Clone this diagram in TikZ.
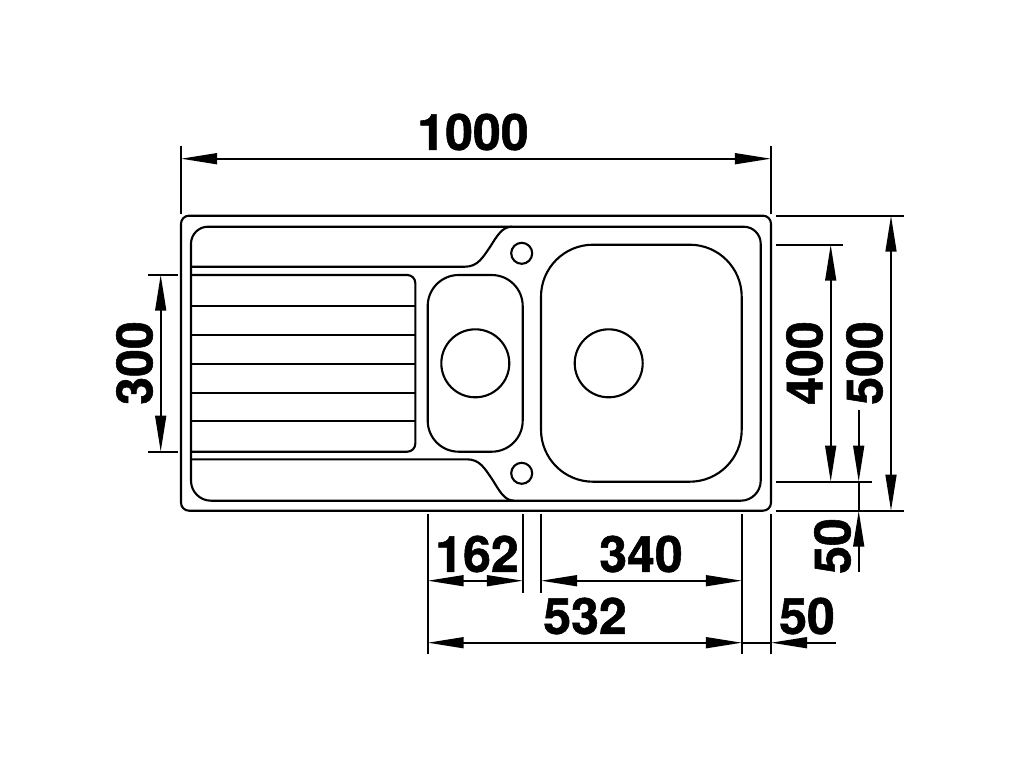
\documentclass[tikz,border=0pt]{standalone}
\usepackage{fontspec}
\setmainfont{TeX Gyre Heros}[BoldFeatures={FakeBold=1.1}]
\usetikzlibrary{arrows.meta}

\tikzset{
  sinkline/.style={line width=1.2pt},
  extline/.style={line width=1pt},
  dimline/.style={line width=1pt, {Triangle[length=20.5pt,width=6.2pt]}-{Triangle[length=20.5pt,width=6.2pt]}},
  dimfree/.style={line width=1pt, {Triangle[length=20.5pt,width=6.2pt]}-},
  dimlabel/.style={inner sep=0pt, font=\fontsize{28.5pt}{28.5pt}\selectfont\bfseries}
}

\begin{document}
\begin{tikzpicture}[x=0.02cm, y=-0.02cm]
\useasboundingbox[fill=white] (0,0) rectangle (1024,768);

% --- Sink Outline ---
\draw[sinkline, rounded corners=0.16cm] (181,215.7) rectangle (771,510.7);
\draw[sinkline] (191,245) [rounded corners=0.34cm] -- (191,226.7) -- (760.7,226.7)
  [rounded corners=0.4cm] -- (760.7,500.7) -- (191,500.7) [sharp corners] -- cycle;

% --- Drainer ---
\draw[sinkline] (191,266.7) -- (465,266.7) .. controls (478,266.7) and (483,257) .. (490,247)
  .. controls (497,236) and (502,226.7) .. (512,226.7);
\draw[sinkline] (191,459.3) -- (467,459.3) .. controls (480,459.3) and (485,469) .. (492,479)
  .. controls (499,490) and (504,500.7) .. (514,500.7);
\draw[sinkline, rounded corners=0.16cm] (191,275) -- (415.3,275) -- (415.3,451.7) -- (191,451.7);
\foreach \ribY in {306,335,364,393,421}
  \draw[sinkline] (191,\ribY) -- (415.3,\ribY);

% --- Bowls ---
\draw[sinkline, rounded corners=0.62cm] (427.7,275) rectangle (522.7,451.7);
\draw[sinkline, rounded corners=1.04cm] (541,244.7) rectangle (741.7,481.7);
\draw[sinkline] (475.3,363.3) circle[radius=34];
\draw[sinkline] (608.7,363.3) circle[radius=34];
\draw[sinkline] (521.7,253.3) circle[radius=10.5];
\draw[sinkline] (521.7,473.3) circle[radius=10.5];

% --- Dimension Points ---
\coordinate (topL) at (181,158.7);
\coordinate (topR) at (771,158.7);
\coordinate (leftT) at (160.7,274.7);
\coordinate (leftB) at (160.7,451.7);
\coordinate (rowA1) at (427.7,580.7);
\coordinate (rowA2) at (523,580.7);
\coordinate (rowA3) at (541,580.7);
\coordinate (rowA4) at (742,580.7);
\coordinate (rowB1) at (427.7,642.7);
\coordinate (rowB2) at (742,642.7);
\coordinate (rowB3) at (771,642.7);
\coordinate (rowB4) at (836,642.7);
\coordinate (midT) at (830.7,244.7);
\coordinate (midB) at (830.7,481.7);
\coordinate (farT) at (891,215.7);
\coordinate (farB) at (891,510.7);
\coordinate (gapS) at (858.7,410);
\coordinate (gapA) at (858.7,481.7);
\coordinate (gapB) at (858.7,510.7);
\coordinate (gapE) at (858.7,571.7);

% --- Extension Lines ---
\draw[extline] (181,146) -- (181,213.7);
\draw[extline] (771,146) -- (771,213.7);
\draw[extline] (148,274.7) -- (178,274.7);
\draw[extline] (148,451.7) -- (178,451.7);
\draw[extline] (776,215.7) -- (904,215.7);
\draw[extline] (776,510.7) -- (904,510.7);
\draw[extline] (776,244.7) -- (843,244.7);
\draw[extline] (776,481.7) -- (872,481.7);
\draw[extline] (427.7,514) -- (427.7,654);
\draw[extline] (523,514) -- (523,593);
\draw[extline] (541,514) -- (541,593);
\draw[extline] (742,514) -- (742,654);
\draw[extline] (771,514) -- (771,654);

% --- Dimension Lines ---
\draw[dimline] (topL) -- (topR);
\draw[dimline] (leftT) -- (leftB);
\draw[dimline] (rowA1) -- (rowA2);
\draw[dimline] (rowA3) -- (rowA4);
\draw[dimline] (rowB1) -- (rowB2);
\draw[extline] (rowB2) -- (rowB3);
\draw[dimfree] (rowB3) -- (rowB4);
\draw[dimline] (midT) -- (midB);
\draw[dimline] (farT) -- (farB);
\draw[dimfree] (gapA) -- (gapS);
\draw[extline] (gapA) -- (gapB);
\draw[dimfree] (gapB) -- (gapE);

% Labels
\node[dimlabel] (lblTotal) at (473,132) {1000};
\node[dimlabel, rotate=90] (lblDrain) at (134.5,363) {300};
\node[dimlabel, rotate=90] (lblBowl) at (804.5,363) {400};
\node[dimlabel, rotate=90] (lblDepth) at (864.5,363) {500};
\node[dimlabel, rotate=90] (lblGap) at (832.5,546) {50};
\node[dimlabel] (lblSmall) at (477,554) {162};
\node[dimlabel] (lblLarge) at (641,554) {340};
\node[dimlabel] (lblBoth) at (585,616) {532};
\node[dimlabel] (lblEdge) at (807,616) {50};

\end{tikzpicture}
\end{document}
